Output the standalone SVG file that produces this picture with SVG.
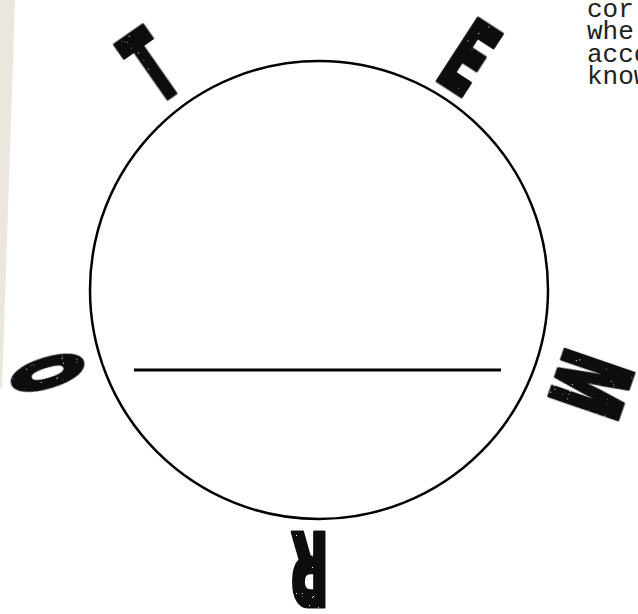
<svg xmlns="http://www.w3.org/2000/svg" width="638" height="614" viewBox="0 0 638 614">
<style>
.ltr{font-family:Inter,"DejaVu Sans",sans-serif;font-weight:900;font-size:103px;fill:#111;stroke:#111;stroke-width:3;stroke-linejoin:round;text-anchor:middle;filter:url(#grunge)}
.mono{font-family:"Liberation Mono","Courier New",monospace;font-size:26px;fill:#222}
</style>
<defs>
<filter id="grunge" x="-10%" y="-10%" width="120%" height="120%">
<feTurbulence type="fractalNoise" baseFrequency="0.9" numOctaves="2" seed="4" result="n"/>
<feColorMatrix in="n" type="matrix" values="0 0 0 0 0  0 0 0 0 0  0 0 0 0 0  0 0 0 -20 16.5" result="m"/>
<feComposite in="SourceGraphic" in2="m" operator="in"/>
</filter>
</defs>
<rect width="638" height="614" fill="#fff"/>
<polygon points="0,0 15,0 2,388 0,388" fill="#ebe7de"/>
<g id="wheel">
<circle cx="319" cy="290" r="229" fill="none" stroke="#000" stroke-width="2.5"/>
</g>
<g id="connectors">
<line x1="134" y1="370" x2="501" y2="370" stroke="#000" stroke-width="3"/>
</g>
<g id="letter-T" transform="translate(150,65) rotate(-35)"><text class="ltr" transform="scale(0.55,1)" y="37.5">T</text></g>
<g id="letter-E" transform="translate(470,57) rotate(33)"><text class="ltr" transform="scale(0.56,1)" y="37.5">E</text></g>
<g id="letter-M" transform="translate(590,384) rotate(109)"><text class="ltr" transform="scale(0.57,0.97)" y="36.5">M</text></g>
<g id="letter-R" transform="translate(309,570) rotate(180)"><text class="ltr" transform="scale(0.53,1)" y="37.5">R</text></g>
<g id="letter-O" transform="translate(50,372) rotate(-107)"><text class="ltr" transform="scale(0.4,0.92)" y="34.5" style="stroke-width:6">O</text></g>
<g id="note">
<text class="mono" x="587" y="17">cor</text>
<text class="mono" x="587" y="39">whe</text>
<text class="mono" x="587" y="62">acco</text>
<text class="mono" x="587" y="84">know</text>
</g>
</svg>
